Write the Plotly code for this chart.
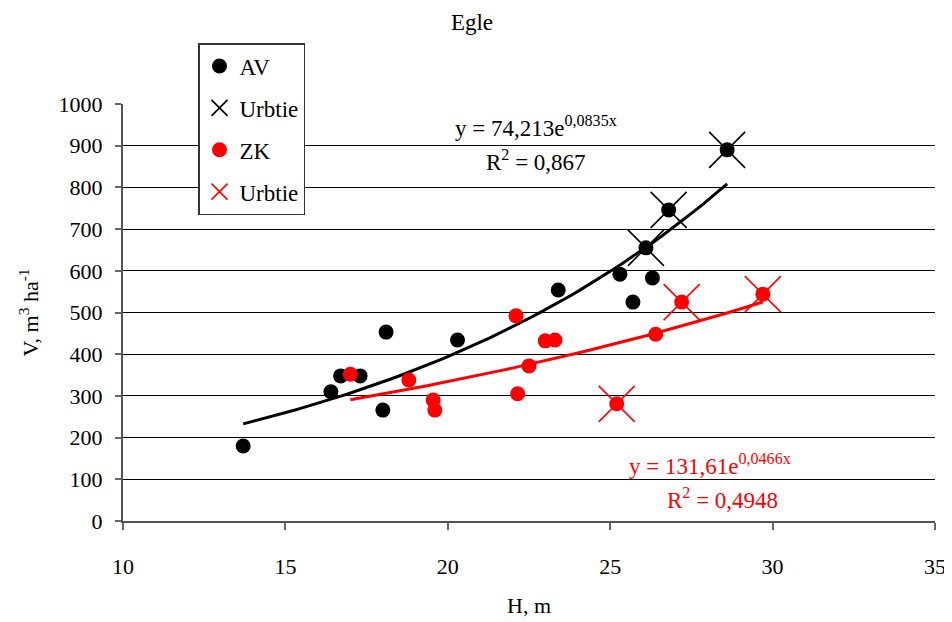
import plotly.graph_objects as go
import numpy as np

# AV (black) points
av_h = [13.7, 16.4, 16.7, 17.3, 18.0, 18.1, 20.3, 23.4, 25.3, 25.7, 26.1, 26.3, 26.8, 28.6]
av_v = [180, 310, 348, 348, 266, 453, 434, 554, 592, 525, 655, 583, 746, 890]
# AV cut (Urbtie) points
av_cut_h = [26.1, 26.8, 28.6]
av_cut_v = [655, 746, 890]

# ZK (red) points
zk_h = [17.0, 18.8, 19.55, 19.6, 22.1, 22.15, 22.5, 23.0, 23.3, 25.2, 26.4, 27.2, 29.7]
zk_v = [352, 338, 290, 266, 492, 305, 372, 432, 434, 281, 448, 525, 544]
zk_cut_h = [25.2, 27.2, 29.7]
zk_cut_v = [281, 525, 544]

# trend line coefficients (y = a*e^(b*x)) as printed on the chart
av_a, av_b = 74.213, 0.0835
zk_a, zk_b = 131.61, 0.0466

serif = "Liberation Serif, Times New Roman, serif"

fig = go.Figure()

xa = np.linspace(min(av_h), max(av_h), 60)
fig.add_trace(go.Scatter(x=xa, y=av_a * np.exp(av_b * xa), mode='lines',
                         line=dict(color='black', width=3), showlegend=False, hoverinfo='skip'))
xz = np.linspace(min(zk_h), max(zk_h), 60)
fig.add_trace(go.Scatter(x=xz, y=zk_a * np.exp(zk_b * xz), mode='lines',
                         line=dict(color='red', width=3), showlegend=False, hoverinfo='skip'))

fig.add_trace(go.Scatter(x=av_h, y=av_v, mode='markers', name='AV', legendgroup='a',
                         marker=dict(color='black', size=15, symbol='circle')))
fig.add_trace(go.Scatter(x=av_cut_h, y=av_cut_v, mode='markers', name='Urbtie', legendgroup='b',
                         marker=dict(color='black', size=36, symbol='x-thin',
                                     line=dict(color='black', width=1.6))))
fig.add_trace(go.Scatter(x=zk_h, y=zk_v, mode='markers', name='ZK', legendgroup='c',
                         marker=dict(color='red', size=15, symbol='circle')))
fig.add_trace(go.Scatter(x=zk_cut_h, y=zk_cut_v, mode='markers', name='Urbtie', legendgroup='d',
                         marker=dict(color='red', size=36, symbol='x-thin',
                                     line=dict(color='red', width=1.6))))

# trend equations, positions given in page pixels of the plot area (123..935, 104..521)
ann = [
    (536, 126, "y = 74,213e<sup>0,0835x</sup>", 'black'),
    (536, 160, "R<sup>2</sup> = 0,867", 'black'),
    (710, 464, "y = 131,61e<sup>0,0466x</sup>", 'red'),
    (722, 498, "R<sup>2</sup> = 0,4948", 'red'),
]
for px, py, t, c in ann:
    fig.add_annotation(x=(px - 123) / 812, y=(521 - py) / 417, xref='paper', yref='paper',
                       xanchor='center', yanchor='middle',
                       showarrow=False, text=t, font=dict(size=23, color=c, family=serif))

# page body has an 8px margin, so the figure is 8px smaller and shifted
fig.update_layout(
    width=944, height=614,
    margin=dict(l=115, r=17, t=96, b=101, autoexpand=False),
    paper_bgcolor='white', plot_bgcolor='white',
    title=dict(text='Egle', x=(472 - 123) / 812, xref='paper', xanchor='center',
               y=1 - 14 / 614, yanchor='middle',
               font=dict(size=23, color='black', family=serif)),
    font=dict(family=serif, color='black', size=22),
    legend=dict(x=(198 - 123) / 812, y=(521 - 43) / 417, xanchor='left', yanchor='top',
                bgcolor='white', bordercolor='#333', borderwidth=1.5,
                font=dict(size=23, family=serif, color='black'),
                itemwidth=30, tracegroupgap=9),
    showlegend=True,
)
fig.update_xaxes(range=[10, 35], dtick=5, showgrid=False, zeroline=False, automargin=False,
                 showline=True, linecolor='#555', linewidth=2,
                 ticks='outside', ticklen=7, tickcolor='#666', tickwidth=2,
                 ticklabelstandoff=18,
                 title=dict(text='H, m', font=dict(size=22, family=serif), standoff=19),
                 tickfont=dict(size=22, family=serif))
fig.update_yaxes(range=[0, 1000], dtick=100, showgrid=True, gridcolor='black', gridwidth=1.3,
                 zeroline=False, showline=True, linecolor='#555', linewidth=2, automargin=False,
                 ticks='outside', ticklen=6, tickcolor='#666', tickwidth=2,
                 ticklabelstandoff=8,
                 title=dict(text='V, m<sup>3</sup> ha<sup>-1</sup>', font=dict(size=22, family=serif), standoff=14),
                 tickfont=dict(size=22, family=serif))

fig.write_html("out.html")
